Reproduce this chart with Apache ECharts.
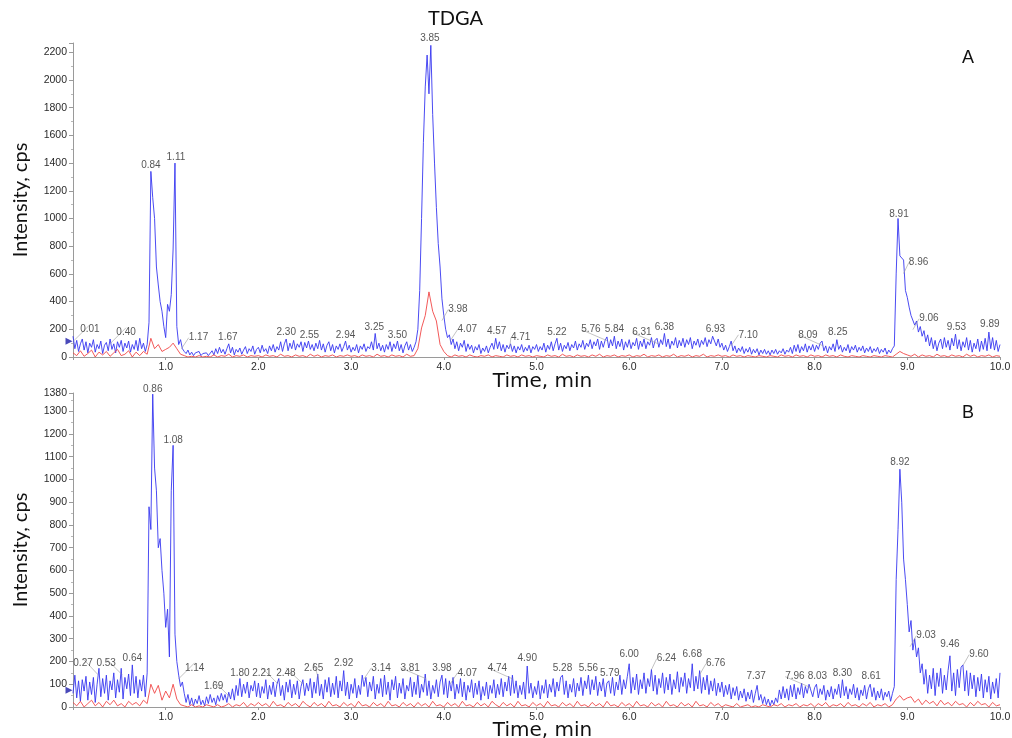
<!DOCTYPE html>
<html>
<head>
<meta charset="utf-8">
<script src="https://cdn.jsdelivr.net/npm/echarts@6/dist/echarts.min.js"></script>
<style>
html,body{margin:0;padding:0;background:#fff;}
#chart{width:1012px;height:738px;}
</style>
</head>
<body>
<div id="chart"></div>
<script>
// ---- data (time step for each trace) ----
const BLUE_STEP = 0.02;
const RED_STEP = 0.04;

// Panel A – blue trace (0.00 .. 10.00 min)
const blueA = [
150,60,120,40,95,130,50,110,30,100,70,125,35,90,60,115,25,85,105,45,130,55,95,30,110,70,120,40,100,65,115,35,90,55,120,45,135,60,100,40,90,
250,1340,1150,1000,650,520,400,330,220,
140,380,330,450,780,1400,220,90,125,60,40,25,50,15,35,10,30,20,40,10,25,15,30,10,20,45,15,60,25,70,30,55,20,60,95,30,70,15,55,35,65,20,50,75,25,60,40,80,20,55,
70,30,85,40,60,25,80,45,90,35,75,50,110,40,95,130,45,100,60,120,50,95,70,110,40,105,65,115,55,90,45,100,60,120,50,95,35,85,110,45,90,30,80,55,95,40,75,115,50,85,
35,70,45,90,30,80,55,95,40,75,60,110,50,170,60,100,45,85,35,90,55,110,40,95,60,115,45,90,30,80,110,50,90,40,70,110,200,480,1000,1550,1950,2180,1900,2250,1750,1400,1080,820,650,420,
300,200,140,160,90,130,60,110,45,100,70,120,40,95,55,85,30,75,50,90,25,65,40,80,30,70,100,55,135,60,110,45,90,35,85,60,95,40,80,30,75,50,90,35,70,45,85,30,75,55,
90,40,75,50,100,35,85,55,110,45,95,135,50,100,40,85,60,105,45,90,65,115,50,95,70,120,55,100,75,125,60,110,80,130,55,115,70,120,145,65,125,80,150,60,115,75,130,50,110,70,
125,60,105,80,135,55,115,75,130,60,110,85,140,65,120,135,70,125,90,170,75,130,60,115,85,140,65,120,80,135,70,125,90,140,60,115,85,130,70,120,90,140,75,125,95,150,160,80,130,70,
100,50,85,40,75,115,45,80,30,65,40,75,25,60,35,70,20,55,30,60,15,50,25,55,20,45,15,50,25,55,20,45,30,60,20,50,35,70,25,85,40,90,30,75,45,95,35,80,50,90,
40,85,55,100,115,45,80,30,75,50,95,40,125,55,85,35,70,45,90,30,75,50,85,35,70,45,80,30,65,40,75,30,60,40,70,25,55,35,65,20,50,30,60,80,600,1000,730,720,700,480,
430,360,300,310,230,260,180,220,150,190,110,160,80,140,60,120,45,100,130,60,140,70,120,50,135,80,165,60,125,45,110,70,140,50,120,35,100,60,130,40,115,55,135,45,180,60,140,50,120,40,90
];

// Panel A – red trace
const redA = [
30,10,45,5,25,50,0,35,15,40,5,30,55,10,20,45,0,35,10,40,
20,135,60,90,40,55,70,100,60,20,
10,0,5,0,10,0,5,0,15,0,10,5,20,0,10,5,15,0,10,5,
10,0,15,5,10,0,20,5,10,0,15,5,10,0,20,5,15,0,10,5,15,0,10,5,15,
5,10,0,15,5,10,0,20,5,10,0,15,5,10,0,20,5,10,
60,210,300,470,330,260,90,40,
10,0,15,5,10,0,15,5,0,10,5,15,0,10,5,0,15,5,10,0,15,5,10,0,
10,5,0,15,5,10,0,20,5,10,0,15,5,10,0,15,5,20,0,10,5,15,0,10,5,
15,0,10,5,20,0,10,5,15,0,10,5,20,0,10,5,15,0,10,5,20,0,10,5,15,
5,10,0,15,5,10,0,10,5,0,10,5,0,10,5,0,15,5,10,0,15,5,10,0,15,
5,10,0,15,5,10,0,15,5,0,10,5,0,10,5,0,10,5,0,10,5,0,
20,40,25,15,
5,20,0,15,5,10,0,20,5,10,0,15,5,10,0,20,5,15,0,10,5,15,0,10,5
];

// Panel B – blue trace
const blueB = [
60,140,40,115,25,120,70,135,30,110,55,130,20,100,170,45,125,60,140,30,115,75,150,40,120,65,170,35,130,80,145,50,185,60,135,40,120,70,140,45,150,
880,780,1375,1050,950,700,740,600,500,350,430,220,950,1150,320,200,140,90,110,60,
20,55,10,40,5,35,15,50,10,30,5,45,15,55,20,40,10,50,25,60,30,55,20,65,35,80,30,95,50,125,45,100,60,110,40,95,70,115,45,
105,40,90,60,120,35,95,55,110,45,100,125,50,95,30,110,65,120,40,100,55,115,35,90,120,50,105,70,125,40,110,60,145,50,100,35,120,65,130,45,105,55,135,40,115,70,160,50,110,35,
100,60,125,40,95,55,140,90,130,45,110,70,135,35,100,60,125,45,140,55,110,30,120,75,135,40,105,60,125,35,95,70,130,45,110,55,140,40,100,65,145,50,115,35,95,60,120,45,110,140,
55,125,40,115,70,130,35,100,60,125,45,110,30,95,65,120,40,105,55,115,30,90,50,110,35,95,60,120,40,100,55,125,45,110,70,135,50,140,60,115,40,95,55,110,35,180,60,105,40,90,
55,115,35,95,60,120,40,100,65,125,45,110,70,130,140,55,115,40,100,65,125,45,105,70,130,50,115,80,140,55,120,75,135,50,110,70,125,45,105,115,60,130,50,110,75,140,55,120,80,135,
190,60,130,75,145,55,120,80,150,60,125,90,165,70,140,55,125,85,150,60,130,75,145,55,120,80,155,65,130,90,150,60,125,85,190,70,135,80,160,60,130,75,140,55,115,70,125,50,105,65,
110,45,95,55,100,35,85,50,90,30,70,40,80,25,65,35,75,20,60,95,30,55,15,45,10,35,5,30,10,40,20,75,35,90,40,80,30,95,45,100,35,85,55,105,40,90,60,100,95,45,
85,100,40,80,55,95,30,75,45,90,35,80,55,100,40,120,50,90,35,80,55,100,40,85,30,75,50,95,35,80,100,45,85,30,70,40,80,30,65,45,70,25,60,90,560,780,1045,900,650,560,
450,330,380,250,300,220,260,150,190,100,165,60,140,80,170,50,150,90,170,60,140,75,160,225,70,150,50,165,85,175,185,70,160,50,150,80,140,45,130,70,145,40,120,65,135,35,110,60,125,40,150
];

// Panel B – red trace
const redB = [
20,5,25,0,15,30,5,20,0,25,10,30,5,15,0,25,10,20,5,30,
15,100,60,95,30,70,40,100,35,10,
5,0,10,0,5,0,10,5,0,10,0,5,15,0,10,5,20,0,15,5,
20,5,15,0,25,5,10,0,20,5,15,0,25,10,0,20,5,15,0,25,5,10,0,20,5,
15,0,25,5,10,0,20,5,15,0,25,5,10,0,20,5,15,0,
20,5,15,0,25,5,10,0,
20,5,15,0,25,5,10,0,20,5,15,0,25,10,0,20,5,15,0,25,5,10,0,20,
5,15,0,25,5,10,0,20,5,15,0,25,5,10,0,20,5,15,0,25,5,10,0,20,5,
15,0,25,5,10,0,20,5,15,0,25,5,10,0,20,5,15,0,25,5,10,0,20,5,15,
0,10,5,0,15,0,5,10,0,5,0,10,5,0,10,5,15,0,10,5,15,0,10,5,15,
0,15,5,20,0,10,5,15,0,20,5,10,0,15,5,20,0,10,5,15,0,10,
35,50,30,40,
45,20,35,10,30,15,25,5,30,10,20,5,25,10,15,0,20,5,25,10,15,0,20,5,10
];

// Peak annotations (retention time, peak intensity)
const peaksA_t = [0.01,0.40,0.84,1.11,1.17,1.67,2.30,2.55,2.94,3.25,3.50,3.85,3.98,4.07,4.57,4.71,5.22,5.76,5.84,6.31,6.38,6.93,7.10,8.09,8.25,8.91,8.96,9.06,9.53,9.89];
const peaksA_v = [118,96,1342,1400,60,96,132,117,117,175,117,2255,263,118,139,60,132,118,154,96,175,154,81,81,132,987,603,197,175,190];
const peaksB_t = [0.27,0.53,0.64,0.86,1.08,1.14,1.69,1.80,2.21,2.48,2.65,2.92,3.14,3.81,3.98,4.07,4.74,4.90,5.28,5.56,5.79,6.00,6.24,6.68,6.76,7.37,7.96,8.03,8.30,8.61,8.92,9.03,9.46,9.60];
const peaksB_v = [142,142,186,1372,1147,124,45,124,102,102,124,164,124,124,146,102,124,186,146,146,124,204,164,204,142,107,85,107,124,107,1050,265,248,182];

// Axis tick labels
const xTicks = [1,2,3,4,5,6,7,8,9,10];
const markerA = [114];
const markerB = [74];

// ---- layout / style (not data) ----
const labelDxA = [16,16,0,0,17,0,0,0,0,0,0,0,16,17,0,11,0,-16,0,-16,0,0,17,-15,0,0,15,16,0,0];
const labelDxB = [-15,-16,0,0,0,16,-16,0,-16,-17,-5,0,17,-16,0,17,-15,0,0,0,0,0,15,0,16,0,-16,0,0,0,0,16,0,16];
const LEADER_RISE = -5;

const toSeries = (arr, step) => arr.map((v, i) => [+(i * step).toFixed(2), v]);

const BLUE = '#3737f0';
const RED = '#f04646';
const AXIS_COLOR = '#9a9a9a';
const TXT = '#2a2a2a';
const BIG_FONT = 'Lato, "Open Sans", sans-serif';
const WIDE_FONT = '"DejaVu Sans", "Open Sans", sans-serif';
const SMALL_FONT = '"Liberation Sans", Arial, sans-serif';

function xAxisCfg(gi, gap) {
  return {
    gridIndex: gi, type: 'value', min: 0, max: 10, interval: 1,
    name: 'Time, min', nameLocation: 'middle', nameGap: gap, nameMoveOverlap: false,
    nameTextStyle: { fontSize: 20, fontFamily: WIDE_FONT, color: '#111', padding: [0, 0, 0, 12] },
    axisLine: { lineStyle: { color: AXIS_COLOR, width: 1 } },
    axisTick: { length: 3, lineStyle: { color: AXIS_COLOR } },
    axisLabel: {
      fontSize: 10.5, fontFamily: SMALL_FONT, color: TXT, margin: 5,
      formatter: v => xTicks.indexOf(v) >= 0 ? v.toFixed(1) : ''
    },
    splitLine: { show: false }
  };
}
function yAxisCfg(gi, max, interval, labelStep) {
  return {
    gridIndex: gi, type: 'value', min: 0, max: max, interval: interval,
    name: 'Intensity, cps', nameLocation: 'middle', nameGap: 42, nameRotate: 90, nameMoveOverlap: false,
    nameTextStyle: { fontSize: 20, fontFamily: BIG_FONT, color: '#111' },
    axisLine: { show: true, lineStyle: { color: AXIS_COLOR, width: 1 } },
    axisTick: { show: true, length: 4, lineStyle: { color: AXIS_COLOR } },
    minorTick: { show: true, splitNumber: 2, length: 2, lineStyle: { color: '#b8b8b8' } },
    axisLabel: {
      fontSize: 10.5, fontFamily: SMALL_FONT, color: TXT, margin: 6,
      formatter: v => (v % labelStep === 0 || v === max) ? String(v) : ''
    },
    splitLine: { show: false }
  };
}

function traces(gi, blue, red, peaksT, peaksV, dx, marker) {
  return [
    {
      type: 'line', xAxisIndex: gi, yAxisIndex: gi, data: toSeries(blue, BLUE_STEP),
      showSymbol: false, symbol: 'none', lineStyle: { color: BLUE, width: 0.9 }, z: 2
    },
    {
      type: 'line', xAxisIndex: gi, yAxisIndex: gi, data: toSeries(red, RED_STEP),
      showSymbol: false, symbol: 'none', lineStyle: { color: RED, width: 0.9 }, z: 3
    },
    {
      type: 'scatter', xAxisIndex: gi, yAxisIndex: gi,
      data: peaksT.map((t, i) => ({ value: [t, peaksV[i]], labelLine: { show: dx[i] !== 0 } })),
      symbolSize: 0, silent: true, z: 5,
      label: {
        show: true, position: 'top', distance: 1, fontSize: 10, fontFamily: SMALL_FONT, color: TXT,
        formatter: p => p.value[0].toFixed(2)
      },
      labelLine: { show: false, lineStyle: { color: '#9a9a9a', width: 0.6 } },
      labelLayout: p => ({ dx: dx[p.dataIndex], dy: dx[p.dataIndex] !== 0 ? LEADER_RISE : 0 })
    },
    {
      type: 'scatter', xAxisIndex: gi, yAxisIndex: gi, data: marker.map(v => [0, v]),
      symbol: 'triangle', symbolRotate: -90, symbolSize: 7, symbolOffset: [-4, 0],
      itemStyle: { color: '#1c1ca8' }, clip: false, silent: true, z: 6
    }
  ];
}

const chart = echarts.init(document.getElementById('chart'), null, { renderer: 'canvas' });
chart.setOption({
  animation: false,
  backgroundColor: '#ffffff',
  grid: [
    { left: 73, right: 12, top: 43, height: 314, outerBoundsMode: 'none', containLabel: false },
    { left: 73, right: 12, top: 393, height: 314, outerBoundsMode: 'none', containLabel: false }
  ],
  xAxis: [xAxisCfg(0, 15), xAxisCfg(1, 14)],
  yAxis: [yAxisCfg(0, 2267, 200, 200), yAxisCfg(1, 1380, 100, 100)],
  graphic: [
    { type: 'text', left: 428, top: 9, style: { text: 'TDGA', font: '20px ' + BIG_FONT, fill: '#111' } },
    { type: 'text', left: 962, top: 49, style: { text: 'A', font: '18px ' + SMALL_FONT, fill: '#111' } },
    { type: 'text', left: 962, top: 404, style: { text: 'B', font: '18px ' + SMALL_FONT, fill: '#111' } }
  ],
  series: [].concat(
    traces(0, blueA, redA, peaksA_t, peaksA_v, labelDxA, markerA),
    traces(1, blueB, redB, peaksB_t, peaksB_v, labelDxB, markerB)
  )
});
</script>
</body>
</html>
